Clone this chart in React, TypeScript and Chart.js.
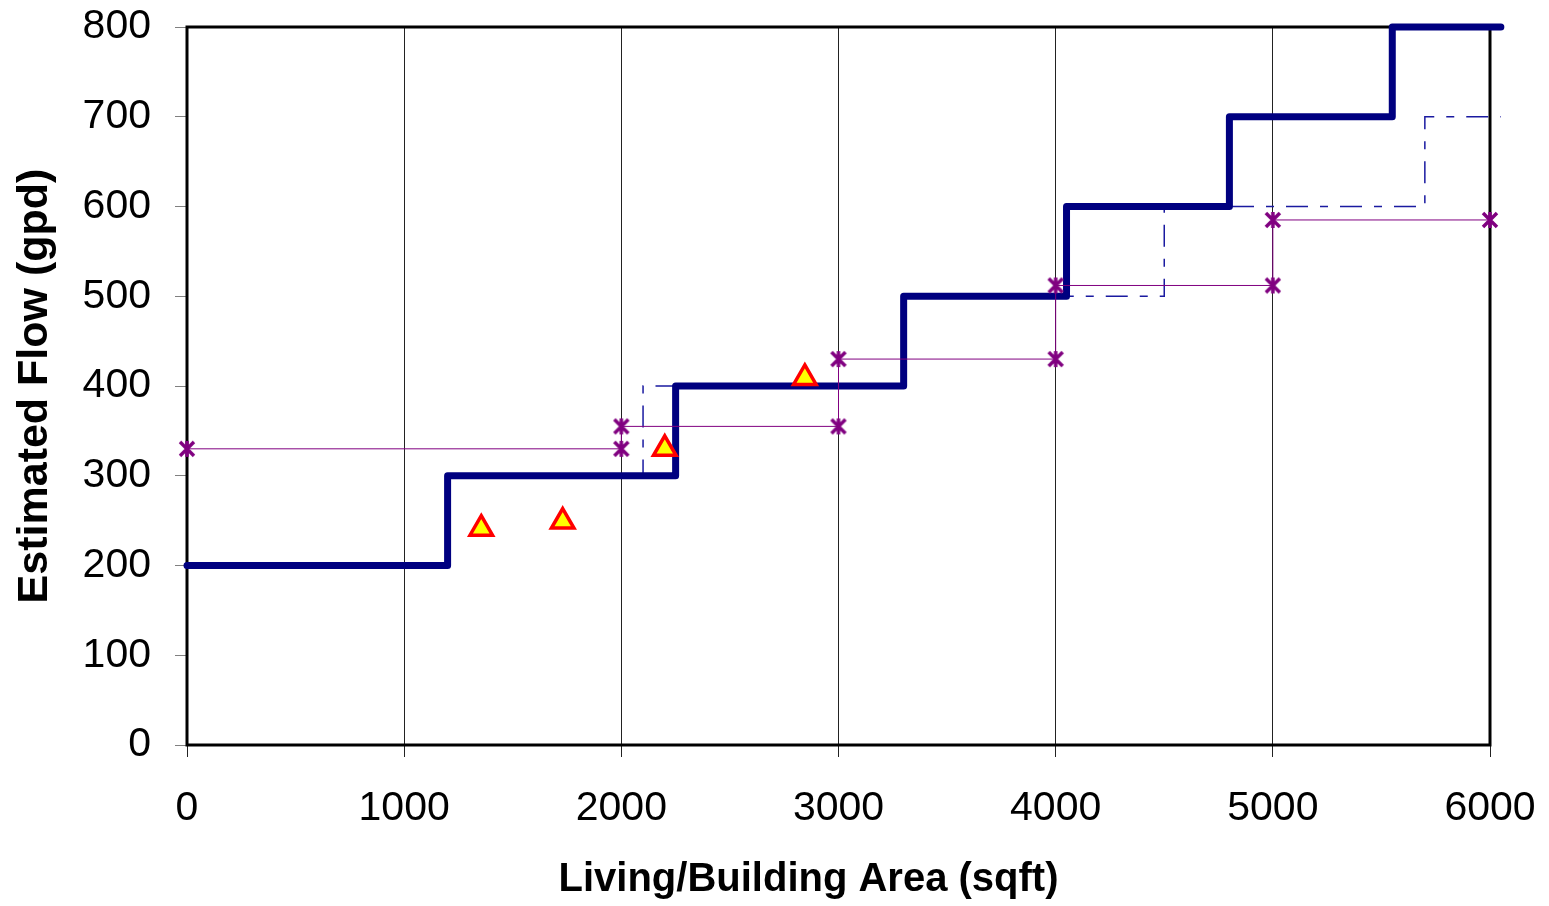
import React, { useEffect, useRef } from "react";
import { Chart, registerables } from "chart.js";

Chart.register(...registerables);

// ---- Data ----
const xTickValues = [0, 1000, 2000, 3000, 4000, 5000, 6000];
const yTickValues = [0, 100, 200, 300, 400, 500, 600, 700, 800];

// Thick navy step curve (breakpoints, step-before)
const primaryStepX = [0, 1200, 2250, 3300, 4050, 4800, 5550, 6050];
const primaryStepY = [200, 300, 400, 500, 600, 700, 800, 800];

// Dash-dot blue step curve
const altStepX = [0, 1200, 2100, 3300, 4500, 5700, 6050];
const altStepY = [200, 300, 400, 500, 600, 700, 700];

// Purple line with star markers
const measuredX = [0, 2000, 2000, 3000, 3000, 4000, 4000, 5000, 5000, 6000];
const measuredY = [330, 330, 355, 355, 430, 430, 512, 512, 585, 585];

// Observed points (triangles)
const observedX = [1355, 1730, 2200, 2845];
const observedY = [241, 249, 330, 409];

const xTitle = "Living/Building Area (sqft)";
const yTitle = "Estimated Flow (gpd)";

const FONT = "'Liberation Sans', Arial, Helvetica, sans-serif";

function zip(xs: number[], ys: number[]) {
  return xs.map((x, i) => ({ x, y: ys[i] }));
}

function makeStar(): HTMLCanvasElement {
  const c = document.createElement("canvas");
  c.width = 20;
  c.height = 20;
  const g = c.getContext("2d")!;
  g.strokeStyle = "#800080";
  g.lineWidth = 3.5;
  g.lineCap = "butt";
  g.beginPath();
  g.moveTo(3, 3);
  g.lineTo(17, 17);
  g.moveTo(17, 3);
  g.lineTo(3, 17);
  g.moveTo(10, 2);
  g.lineTo(10, 18);
  g.stroke();
  return c;
}

const borderPlugin = {
  id: "plotBorder",
  beforeDatasetsDraw(chart: any) {
    const { ctx, chartArea } = chart;
    ctx.save();
    ctx.strokeStyle = "#000";
    ctx.lineWidth = 3;
    ctx.strokeRect(chartArea.left, chartArea.top, chartArea.right - chartArea.left, chartArea.bottom - chartArea.top);
    ctx.restore();
  },
  afterDraw(chart: any) {
    const { ctx, chartArea } = chart;
    ctx.save();
    ctx.fillStyle = "#000";
    ctx.font = `bold 40px ${FONT}`;
    ctx.textAlign = "center";
    ctx.textBaseline = "middle";
    const cx = (chartArea.left + chartArea.right) / 2 - 30;
    ctx.fillText(xTitle, cx, chart.height - 26);
    ctx.restore();
  },
};

export default function App() {
  const ref = useRef<HTMLCanvasElement | null>(null);

  useEffect(() => {
    document.body.style.margin = "0";
    const canvas = ref.current!;
    const star = makeStar();
    const chart = new Chart(canvas, {
      type: "line",
      data: {
        datasets: [
          {
            label: "Observed",
            data: zip(observedX, observedY),
            showLine: false,
            pointStyle: "triangle",
            pointRadius: 13,
            pointBackgroundColor: "#ffff00",
            pointBorderColor: "#ff0000",
            pointBorderWidth: 3.5,
            order: 0,
            clip: false as any,
          },
          {
            label: "Measured",
            data: zip(measuredX, measuredY),
            borderColor: "#800080",
            borderWidth: 1,
            pointStyle: star as any,
            pointRadius: 10,
            order: 1,
            clip: false as any,
          },
          {
            label: "Primary",
            data: zip(primaryStepX, primaryStepY),
            stepped: true,
            borderColor: "#000080",
            borderWidth: 7,
            borderCapStyle: "round",
            borderJoinStyle: "round",
            pointRadius: 0,
            order: 2,
            clip: false as any,
          },
          {
            label: "Alternate",
            data: zip(altStepX, altStepY),
            stepped: true,
            borderColor: "#1a1aa0",
            borderWidth: 1.5,
            borderDash: [22, 12, 8, 12],
            pointRadius: 0,
            order: 3,
            clip: false as any,
          },
        ],
      },
      options: {
        animation: false,
        responsive: false,
        devicePixelRatio: 1,
        parsing: false as any,
        layout: { autoPadding: false, padding: { left: 0, right: 59, top: 27, bottom: 0 } },
        plugins: { legend: { display: false }, tooltip: { enabled: false } },
        scales: {
          x: {
            type: "linear",
            min: 0,
            max: 6000,
            afterBuildTicks: (s: any) => {
              s.ticks = xTickValues.map((v) => ({ value: v }));
            },
            afterFit: (s: any) => {
              s.height = 161;
              s.paddingLeft = 0;
              s.paddingRight = 0;
            },
            border: { display: false },
            grid: { color: "#222", lineWidth: 1, tickLength: 12, drawTicks: true },
            ticks: {
              color: "#000",
              font: { family: FONT, size: 41 },
              padding: 27,
              maxRotation: 0,
              autoSkip: false,
              callback: (v: any) => String(v),
            },
            title: { display: false },
          },
          y: {
            type: "linear",
            min: 0,
            max: 800,
            afterBuildTicks: (s: any) => {
              s.ticks = yTickValues.map((v) => ({ value: v }));
            },
            afterFit: (s: any) => {
              s.width = 187;
              s.paddingTop = 0;
              s.paddingBottom = 0;
            },
            border: { display: false },
            grid: { drawOnChartArea: false, color: "#808080", tickLength: 12, drawTicks: true },
            ticks: {
              color: "#000",
              font: { family: FONT, size: 41 },
              padding: 24,
              autoSkip: false,
              callback: (v: any) => String(v),
            },
            title: {
              display: true,
              text: yTitle,
              color: "#000",
              font: { family: FONT, size: 43, weight: "bold", lineHeight: 1.2 },
              padding: { top: 9, bottom: 0 },
            },
          },
        },
      },
      plugins: [borderPlugin],
    });
    return () => chart.destroy();
  }, []);

  return (
    <div style={{ width: 1549, height: 906, background: "#fff" }}>
      <canvas ref={ref} width={1549} height={906} style={{ display: "block" }} />
    </div>
  );
}
